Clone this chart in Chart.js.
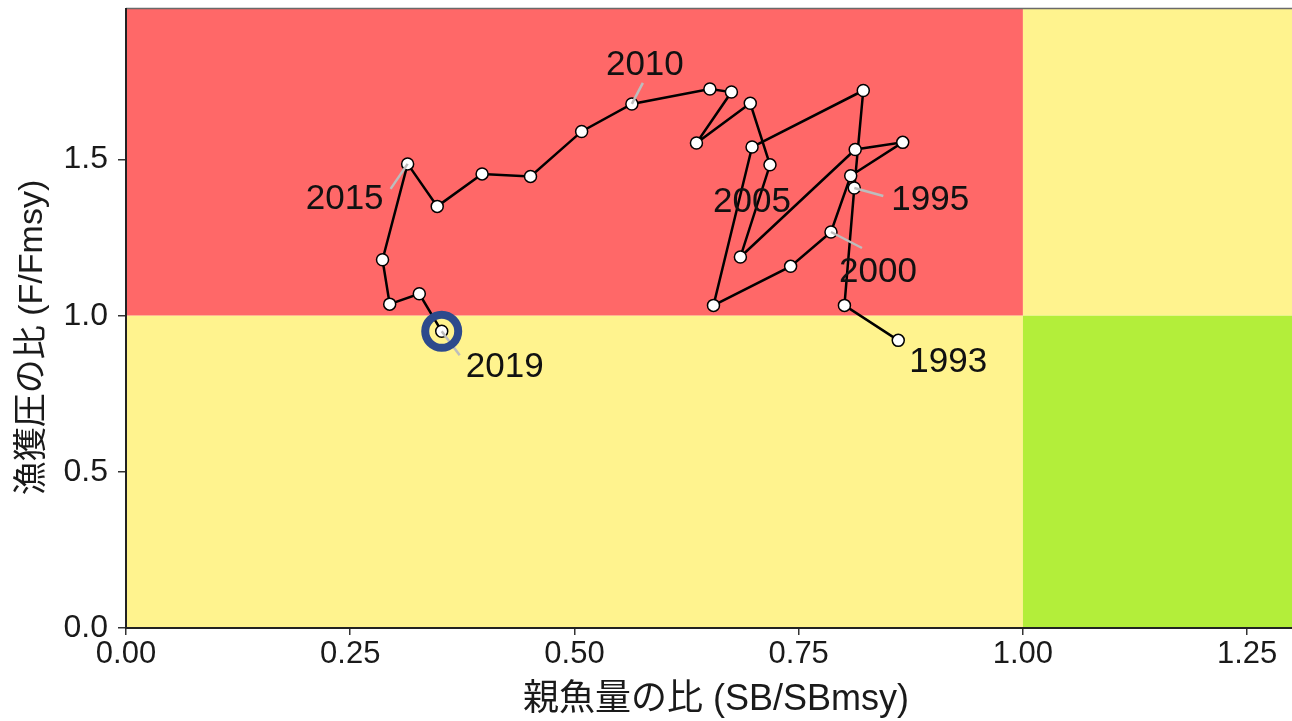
<!DOCTYPE html>
<html>
<head>
<meta charset="utf-8">
<script src="https://cdn.jsdelivr.net/npm/chart.js@4.4.1/dist/chart.umd.min.js"></script>
<style>
  html, body { margin: 0; padding: 0; background: #fff; }
  #wrap { width: 1292px; height: 721px; }
</style>
</head>
<body>
<div id="wrap"><canvas id="kobe" width="1292" height="721"></canvas></div>
<script>
// Stock trajectory: spawning biomass ratio vs fishing pressure ratio, by year
const years = [1993, 1994, 1995, 1996, 1997, 1998, 1999, 2000, 2001, 2002,
               2003, 2004, 2005, 2006, 2007, 2008, 2009, 2010, 2011, 2012,
               2013, 2014, 2015, 2016, 2017, 2018, 2019];
const sbRatio = [0.861, 0.801, 0.812, 0.822, 0.698, 0.655, 0.741, 0.786, 0.808, 0.866,
                 0.813, 0.685, 0.718, 0.696, 0.636, 0.675, 0.651, 0.564, 0.508, 0.451,
                 0.397, 0.347, 0.314, 0.286, 0.294, 0.327, 0.352];
const fRatio  = [0.921, 1.033, 1.409, 1.721, 1.540, 1.033, 1.158, 1.268, 1.448, 1.555,
                 1.532, 1.188, 1.483, 1.680, 1.553, 1.716, 1.726, 1.678, 1.590, 1.446,
                 1.454, 1.350, 1.486, 1.179, 1.037, 1.070, 0.950];

// Axes
const xTicks = [0, 0.25, 0.5, 0.75, 1.0, 1.25];
const yTicks = [0, 0.5, 1.0, 1.5];
const xMax = 1.30;
const yMax = 1.982;
const sbRef = 1.0;   // SB/SBmsy = 1
const fRef = 1.0;    // F/Fmsy = 1

// Years that get a text label, and the highlighted latest year
const labelYears = [1993, 1995, 2000, 2005, 2010, 2015, 2019];
const latestYear = 2019;

const xTitle = '親魚量の比 (SB/SBmsy)';
const yTitle = '漁獲圧の比 (F/Fmsy)';

// Label placement in pixels relative to its point: [text dx, text dy, leader end dx, leader end dy]
const labelPlacement = {
  1993: [50, 21, null, null],
  1995: [76, 11, 29, 8],
  2000: [47, 39, 31, 16],
  2005: [-18, 37, null, null],
  2010: [13, -40, 11, -21],
  2015: [-63, 34, -17, 25],
  2019: [63, 35, 18, 24]
};

const FONT = '"Liberation Sans", Arial, "Noto Sans CJK JP", sans-serif';
const COLORS = { red: '#FF6868', yellow: '#FFF38E', green: '#B3EE3A' };

const points = years.map((y, i) => ({ x: sbRatio[i], y: fRatio[i] }));
const latestIdx = years.indexOf(latestYear);

// Status zones painted behind everything
const zonePlugin = {
  id: 'zones',
  beforeDraw(chart) {
    const { ctx, chartArea: a, scales: { x, y } } = chart;
    const xr = x.getPixelForValue(sbRef);
    const yr = y.getPixelForValue(fRef);
    ctx.save();
    ctx.fillStyle = '#fff';
    ctx.fillRect(0, 0, chart.width, chart.height);
    ctx.fillStyle = COLORS.red;    ctx.fillRect(a.left, a.top, xr - a.left, yr - a.top);
    ctx.fillStyle = COLORS.yellow; ctx.fillRect(a.left, yr, xr - a.left, a.bottom - yr);
    ctx.fillStyle = COLORS.yellow; ctx.fillRect(xr, a.top, a.right - xr, yr - a.top);
    ctx.fillStyle = COLORS.green;  ctx.fillRect(xr, yr, a.right - xr, a.bottom - yr);
    ctx.strokeStyle = '#6a6a6a';
    ctx.lineWidth = 1.5;
    ctx.beginPath();
    ctx.moveTo(a.left, a.top - 0.5);
    ctx.lineTo(a.right, a.top - 0.5);
    ctx.stroke();
    ctx.restore();
  }
};

// Grey leader segments, drawn right after the trajectory
const leaderPlugin = {
  id: 'leaders',
  afterDatasetDraw(chart, args) {
    if (args.index !== 0) return;
    const { ctx, scales: { x, y } } = chart;
    ctx.save();
    ctx.strokeStyle = '#bdbdbd';
    ctx.lineWidth = 2.5;
    labelYears.forEach(yr => {
      const p = labelPlacement[yr];
      if (p[2] === null) return;
      const i = years.indexOf(yr);
      const px = x.getPixelForValue(sbRatio[i]);
      const py = y.getPixelForValue(fRatio[i]);
      ctx.beginPath();
      ctx.moveTo(px, py);
      ctx.lineTo(px + p[2], py + p[3]);
      ctx.stroke();
    });
    ctx.restore();
  }
};

// Year labels and axis titles
const textPlugin = {
  id: 'texts',
  afterDraw(chart) {
    const { ctx, chartArea: a, scales: { x, y } } = chart;
    ctx.save();
    ctx.fillStyle = '#111';
    ctx.textAlign = 'center';
    ctx.textBaseline = 'middle';
    ctx.font = '35px ' + FONT;
    labelYears.forEach(yr => {
      const p = labelPlacement[yr];
      const i = years.indexOf(yr);
      const px = x.getPixelForValue(sbRatio[i]);
      const py = y.getPixelForValue(fRatio[i]);
      ctx.fillText(String(yr), px + p[0], py + p[1] + 1);
    });
    ctx.fillStyle = '#1a1a1a';
    ctx.font = '36px ' + FONT;
    ctx.fillText(xTitle, (a.left + a.right) / 2 + 7, 700);
    ctx.font = '34px ' + FONT;
    ctx.translate(33, (a.top + a.bottom) / 2 + 19);
    ctx.rotate(-Math.PI / 2);
    ctx.fillText(yTitle, 0, 0);
    ctx.restore();
  }
};

// Keep the plot area fixed: no extra room reserved for overhanging tick labels
const noOverhang = s => { s.paddingLeft = 0; s.paddingRight = 0; s.paddingTop = 0; s.paddingBottom = 0; };

new Chart(document.getElementById('kobe'), {
  type: 'scatter',
  data: {
    datasets: [
      {
        data: points,
        showLine: true,
        borderColor: '#000',
        borderWidth: 2.5,
        pointRadius: 6,
        pointBorderWidth: 1.5,
        pointBorderColor: '#000',
        pointBackgroundColor: '#fff',
        clip: false,
        order: 2
      },
      {
        data: [points[latestIdx]],
        showLine: false,
        pointRadius: 16.5,
        pointBorderWidth: 8,
        pointBorderColor: '#2D4A8C',
        pointBackgroundColor: 'rgba(0,0,0,0)',
        clip: false,
        order: 1
      }
    ]
  },
  plugins: [zonePlugin, leaderPlugin, textPlugin],
  options: {
    responsive: false,
    devicePixelRatio: 1,
    animation: false,
    layout: { autoPadding: false, padding: { top: 9, right: 0, bottom: 0, left: 0 } },
    plugins: { legend: { display: false }, tooltip: { enabled: false } },
    scales: {
      x: {
        type: 'linear',
        min: 0,
        max: xMax,
        afterBuildTicks: s => { s.ticks = xTicks.map(v => ({ value: v })); },
        afterFit: s => { s.height = 93; noOverhang(s); },
        grid: { drawOnChartArea: false, drawTicks: true, tickLength: 7, color: '#333', lineWidth: 1.5 },
        border: { display: true, color: '#222', width: 2 },
        ticks: {
          color: '#1a1a1a',
          font: { family: FONT, size: 31 },
          padding: 1,
          maxRotation: 0,
          callback: v => Number(v).toFixed(2)
        }
      },
      y: {
        type: 'linear',
        min: 0,
        max: yMax,
        afterBuildTicks: s => { s.ticks = yTicks.map(v => ({ value: v })); },
        afterFit: s => { s.width = 126; noOverhang(s); },
        grid: { drawOnChartArea: false, drawTicks: true, tickLength: 8, color: '#333', lineWidth: 1.5 },
        border: { display: true, color: '#222', width: 2 },
        ticks: {
          color: '#1a1a1a',
          font: { family: FONT, size: 32 },
          padding: 10,
          callback: v => Number(v).toFixed(1)
        }
      }
    }
  }
});
</script>
</body>
</html>
